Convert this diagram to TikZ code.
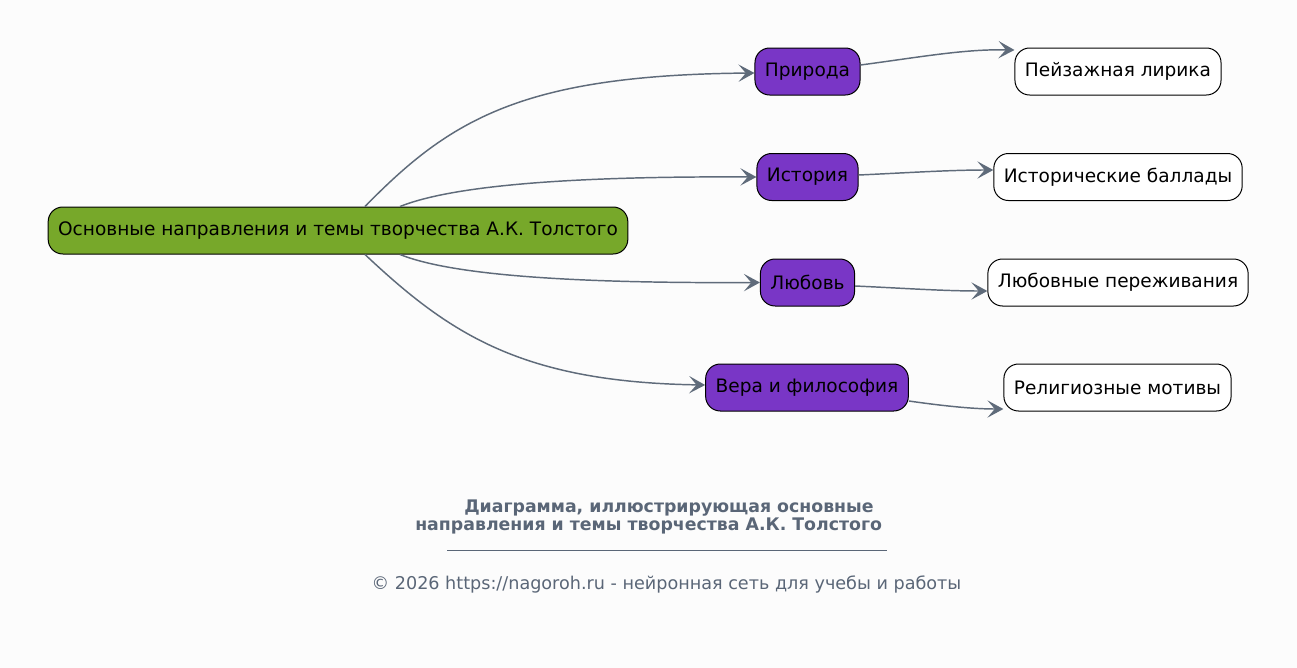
\documentclass[tikz,border=0pt]{standalone}
\usepackage{fontspec}
\setmainfont{DejaVu Sans}
\usetikzlibrary{arrows.meta,calc}
\definecolor{bgcol}{HTML}{FCFCFC}
\definecolor{rootgreen}{HTML}{77A82A}
\definecolor{topicpurple}{HTML}{7936C6}
\definecolor{edgegray}{HTML}{5F6B7A}
\definecolor{titlegray}{HTML}{5A6677}

\begin{document}
\begin{tikzpicture}[x=0.75pt,y=-0.75pt,
        box/.style={draw=black,line width=0.75pt,rounded corners=11pt,minimum height=35.25pt,inner xsep=7.5pt,font=\fontsize{13.9}{16}\selectfont},
        rootbox/.style={box,fill=rootgreen},
        topicbox/.style={box,fill=topicpurple},
        leafbox/.style={box,fill=white},
        link/.style={draw=edgegray,line width=1.1pt,-{Stealth[length=12pt,width=13pt,inset=5.5pt]}}]
        \fill[bgcol] (0,0) rectangle (1297,668);
        \draw (338,230.5) node(main)[rootbox]{Основные направления и темы творчества А.К. Толстого};
        \draw (807.5,71.5) node(nature)[topicbox]{Природа};
        \draw (807.5,177) node(history)[topicbox]{История};
        \draw (807.5,282.5) node(love)[topicbox]{Любовь};
        \draw (807,387.5) node(faith)[topicbox]{Вера и философия};
        \draw (1118,71.5) node(lyrics)[leafbox]{Пейзажная лирика};
        \draw (1118,177) node(ballads)[leafbox]{Исторические баллады};
        \draw (1118,282.5) node(feelings)[leafbox]{Любовные переживания};
        \draw (1117.5,387.5) node(motifs)[leafbox]{Религиозные мотивы};
        \draw[link] ($(main.north)+(27,0)$) .. controls +(85,-87) and +(-232,2) .. ($(nature.west)+(0,1.5)$);
        \draw[link] ($(main.north)+(62,0)$) .. controls +(50,-20) and +(-195,-1) .. (history.west);
        \draw[link] ($(main.south)+(62,0)$) .. controls +(50,20) and +(-195,1) .. (love.west);
        \draw[link] ($(main.south)+(27,0)$) .. controls +(85,80) and +(-183,-3) .. ($(faith.west)+(0,-2.5)$);
        \draw[link] ($(nature.east)+(0,-6.5)$) .. controls +(60,-8) and +(-50,-1) .. ($(lyrics.west)+(0,-21.5)$);
        \draw[link] ($(history.east)+(0,-2)$) .. controls +(45,-2) and +(-45,0) .. ($(ballads.west)+(0,-7)$);
        \draw[link] ($(love.east)+(0,3.5)$) .. controls +(45,2) and +(-45,0) .. ($(feelings.west)+(0,8.5)$);
        \draw[link] ($(faith.east)+(0,13.5)$) .. controls +(35,5) and +(-30,0) .. ($(motifs.west)+(0,21.5)$);
        \draw (464,512) node(title1)[anchor=base west,inner sep=0pt,text=titlegray,font=\fontsize{13}{15}\selectfont\bfseries]{Диаграмма, иллюстрирующая основные};
        \draw (415,530) node(title2)[anchor=base west,inner sep=0pt,text=titlegray,font=\fontsize{13}{15}\selectfont\bfseries]{направления и темы творчества А.К. Толстого};
        \draw[titlegray,line width=0.75pt] (447,550) -- (887,550);
        \draw (666.5,589) node(credits)[anchor=base,inner sep=0pt,text=titlegray,font=\fontsize{13.2}{15}\selectfont]{© 2026 https://nagoroh.ru - нейронная сеть для учебы и работы};
    \end{tikzpicture}
\end{document}
